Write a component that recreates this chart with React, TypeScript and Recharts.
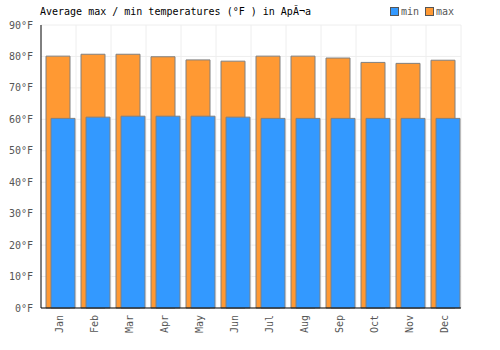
import { BarChart, Bar, XAxis, YAxis, CartesianGrid, Rectangle } from "recharts";

const months = ["Jan", "Feb", "Mar", "Apr", "May", "Jun", "Jul", "Aug", "Sep", "Oct", "Nov", "Dec"];
const maxTemps = [80.1, 80.7, 80.7, 79.9, 78.9, 78.5, 80.1, 80.1, 79.5, 78.1, 77.8, 78.8];
const minTemps = [60.3, 60.7, 61.0, 61.0, 61.0, 60.7, 60.3, 60.3, 60.3, 60.3, 60.3, 60.3];
const yTicks = [0, 10, 20, 30, 40, 50, 60, 70, 80, 90];

const FONT = "'DejaVu Sans Mono', monospace";
const MIN_COLOR = "#3399ff";
const MAX_COLOR = "#ff9933";
const STROKE = "#808080";

const chartData = months.map((m, i) => ({ month: m, max: maxTemps[i], min: minTemps[i] }));

// bars sit a bit right of center in the original
const ShiftedBar = (props: any) => <Rectangle {...props} x={props.x + 2} />;

const MonthTick = ({ x, y, payload }: any) => (
  <g transform={`translate(${x + 1},${y - 1})`}>
    <text transform="rotate(-90)" textAnchor="end" dy="0.35em" fontFamily={FONT} fontSize={10} fill="#555">
      {payload.value}
    </text>
  </g>
);

const legendItems = [
  { label: "min", color: MIN_COLOR },
  { label: "max", color: MAX_COLOR },
];

export default function App() {
  return (
    <div style={{ position: "absolute", left: 0, top: 0, width: 500, height: 350, background: "#fff" }}>
      <div style={{ position: "absolute", left: 40, top: 6, fontFamily: FONT, fontSize: 10, color: "#000" }}>
        Average max / min temperatures (°F ) in Ap{"\u0102\u00ac"}a
      </div>
      <div
        style={{ position: "absolute", left: 390, top: 6, display: "flex", fontFamily: FONT, fontSize: 10, color: "#555" }}
      >
        {legendItems.map((it) => (
          <span key={it.label} style={{ display: "flex", alignItems: "center", marginRight: 6 }}>
            <span style={{ width: 7, height: 7, background: it.color, border: "1px solid #555", marginRight: 2 }} />
            {it.label}
          </span>
        ))}
      </div>
      <BarChart
        width={500}
        height={350}
        data={chartData}
        margin={{ top: 25, right: 39, bottom: 0, left: 0 }}
        barSize={24}
        barGap={-19}
      >
        <CartesianGrid
          stroke="#eeeeee"
          verticalCoordinatesGenerator={({ offset }: any) =>
            months.map((_, i) => offset.left + ((i + 1) * offset.width) / months.length)
          }
        />
        <XAxis
          dataKey="month"
          height={42}
          tickLine={false}
          axisLine={{ stroke: "#000" }}
          interval={0}
          tick={<MonthTick />}
        />
        <YAxis
          width={41}
          domain={[0, 90]}
          ticks={yTicks}
          tickLine={false}
          axisLine={{ stroke: "#000" }}
          tickFormatter={(v) => `${v}°F`}
          tick={{ fontFamily: FONT, fontSize: 10, fill: "#555" }}
        />
        <Bar dataKey="max" name="max" fill={MAX_COLOR} stroke={STROKE} strokeWidth={1} shape={ShiftedBar} isAnimationActive={false} />
        <Bar dataKey="min" name="min" fill={MIN_COLOR} stroke={STROKE} strokeWidth={1} shape={ShiftedBar} isAnimationActive={false} />
      </BarChart>
    </div>
  );
}
